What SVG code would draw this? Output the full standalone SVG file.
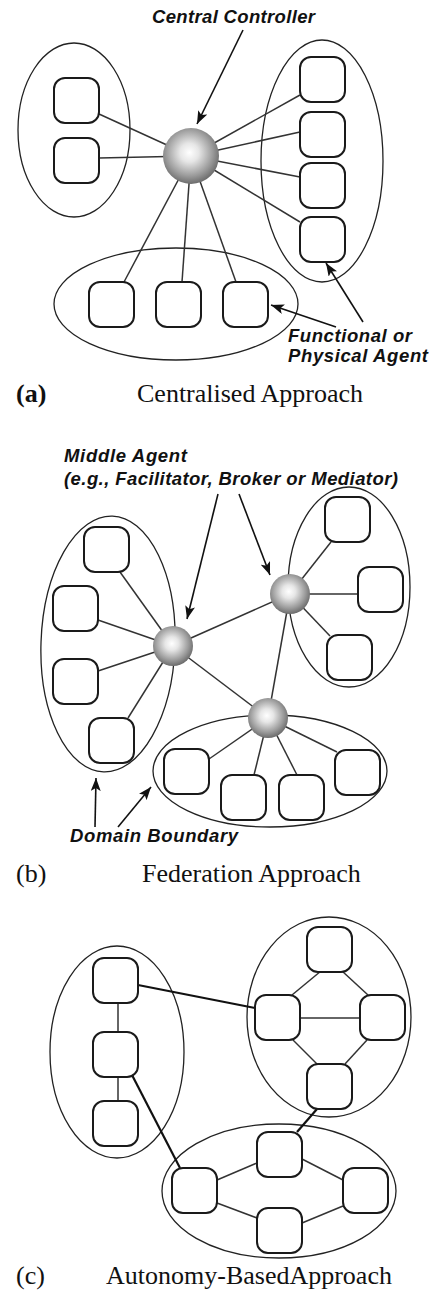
<svg xmlns="http://www.w3.org/2000/svg" width="434" height="1291" viewBox="0 0 434 1291">
<style>
.dom{fill:none;stroke:#222;stroke-width:1.3}
.box{fill:#fff;stroke:#1a1a1a;stroke-width:2}
.ln{stroke:#333;stroke-width:1.5;fill:none}
.lk{stroke:#111;stroke-width:2.2;fill:none}
.ar{stroke:#111;stroke-width:1.6;fill:none;marker-end:url(#ah)}
.sph{fill:url(#sg)}
.lab{font-family:"Liberation Sans",Arial,sans-serif;font-weight:bold;font-style:italic;font-size:18.5px;fill:#111}
.cap{font-family:"Liberation Serif","Times New Roman",serif;font-size:26px;fill:#111}
</style>
<defs>
<radialGradient id="sg" cx="0.47" cy="0.44" r="0.56">
<stop offset="0" stop-color="#ffffff"/>
<stop offset="0.3" stop-color="#e6e6e6"/>
<stop offset="0.75" stop-color="#9a9a9a"/>
<stop offset="1" stop-color="#6c6c6c"/>
</radialGradient>
<marker id="ah" markerUnits="userSpaceOnUse" markerWidth="14" markerHeight="10" refX="13" refY="5" orient="auto">
<path d="M0,0 L13,5 L0,10 L3,5 z" fill="#111"/>
</marker>
<rect id="b" width="45" height="45" rx="11" ry="11" class="box"/>
</defs>

<g id="panel-a">
<g id="a-domain-left"><ellipse class="dom" cx="74" cy="130" rx="56" ry="87"/></g>
<g id="a-domain-right"><ellipse class="dom" cx="322" cy="161" rx="61" ry="121"/></g>
<g id="a-domain-bottom"><ellipse class="dom" cx="176" cy="304" rx="122" ry="56"/></g>
<g id="a-connectors">
<line class="ln" x1="191" y1="156" x2="99" y2="114"/>
<line class="ln" x1="191" y1="156" x2="99" y2="158"/>
<line class="ln" x1="191" y1="156" x2="300" y2="95"/>
<line class="ln" x1="191" y1="156" x2="300" y2="132"/>
<line class="ln" x1="191" y1="156" x2="300" y2="177"/>
<line class="ln" x1="191" y1="156" x2="300" y2="222"/>
<line class="ln" x1="191" y1="156" x2="124" y2="282"/>
<line class="ln" x1="191" y1="156" x2="182" y2="282"/>
<line class="ln" x1="191" y1="156" x2="236" y2="282"/>
<line class="ar" x1="243" y1="30" x2="197" y2="124"/>
<line class="ar" x1="336" y1="327" x2="271" y2="305"/>
<line class="ar" x1="363" y1="322" x2="326" y2="263"/>
</g>
<g id="a-agent-l1"><use href="#b" x="54" y="78"/></g>
<g id="a-agent-l2"><use href="#b" x="54" y="138"/></g>
<g id="a-agent-r1"><use href="#b" x="300" y="57"/></g>
<g id="a-agent-r2"><use href="#b" x="300" y="112"/></g>
<g id="a-agent-r3"><use href="#b" x="300" y="163"/></g>
<g id="a-agent-r4"><use href="#b" x="300" y="217"/></g>
<g id="a-agent-b1"><use href="#b" x="89" y="282"/></g>
<g id="a-agent-b2"><use href="#b" x="156" y="282"/></g>
<g id="a-agent-b3"><use href="#b" x="223" y="282"/></g>
<g id="a-controller"><circle class="sph" cx="191" cy="156" r="28"/></g>
<g id="a-labels">
<text class="lab" x="152" y="23" textLength="163">Central Controller</text>
<text class="lab" x="288" y="342" textLength="124">Functional or</text>
<text class="lab" x="288" y="362" textLength="140">Physical Agent</text>
<text class="cap" x="16" y="402" font-weight="bold">(a)</text>
<text class="cap" x="137" y="402">Centralised Approach</text>
</g>
</g>

<g id="panel-b">
<g id="b-domain-left"><ellipse class="dom" cx="108" cy="644" rx="67" ry="128" transform="rotate(2 108 644)"/></g>
<g id="b-domain-right"><ellipse class="dom" cx="349" cy="587" rx="61" ry="100"/></g>
<g id="b-domain-bottom"><ellipse class="dom" cx="270" cy="771" rx="117" ry="56"/></g>
<g id="b-connectors">
<line class="ln" x1="173" y1="646" x2="120" y2="572"/>
<line class="ln" x1="173" y1="646" x2="98" y2="620"/>
<line class="ln" x1="173" y1="646" x2="98" y2="671"/>
<line class="ln" x1="173" y1="646" x2="128" y2="718"/>
<line class="ln" x1="173" y1="646" x2="290" y2="594"/>
<line class="ln" x1="173" y1="646" x2="268" y2="718"/>
<line class="ln" x1="290" y1="594" x2="268" y2="718"/>
<line class="ln" x1="290" y1="594" x2="331" y2="542"/>
<line class="ln" x1="290" y1="594" x2="358" y2="594"/>
<line class="ln" x1="290" y1="594" x2="330" y2="636"/>
<line class="ln" x1="268" y1="718" x2="209" y2="759"/>
<line class="ln" x1="268" y1="718" x2="254" y2="775"/>
<line class="ln" x1="268" y1="718" x2="297" y2="775"/>
<line class="ln" x1="268" y1="718" x2="337" y2="752"/>
<line class="ar" x1="218" y1="494" x2="187" y2="619"/>
<line class="ar" x1="239" y1="494" x2="270" y2="575"/>
<line class="ar" x1="95" y1="827" x2="96" y2="778"/>
<line class="ar" x1="118" y1="827" x2="151" y2="787"/>
</g>
<g id="b-agent-l1"><use href="#b" x="84" y="527"/></g>
<g id="b-agent-l2"><use href="#b" x="53" y="586"/></g>
<g id="b-agent-l3"><use href="#b" x="53" y="659"/></g>
<g id="b-agent-l4"><use href="#b" x="89" y="718"/></g>
<g id="b-agent-r1"><use href="#b" x="325" y="497"/></g>
<g id="b-agent-r2"><use href="#b" x="358" y="567"/></g>
<g id="b-agent-r3"><use href="#b" x="327" y="635"/></g>
<g id="b-agent-b1"><use href="#b" x="164" y="749"/></g>
<g id="b-agent-b2"><use href="#b" x="221" y="775"/></g>
<g id="b-agent-b3"><use href="#b" x="279" y="775"/></g>
<g id="b-agent-b4"><use href="#b" x="335" y="750"/></g>
<g id="b-middle-1"><circle class="sph" cx="173" cy="646" r="20"/></g>
<g id="b-middle-2"><circle class="sph" cx="290" cy="594" r="20"/></g>
<g id="b-middle-3"><circle class="sph" cx="268" cy="718" r="20"/></g>
<g id="b-labels">
<text class="lab" x="64" y="462" textLength="123">Middle Agent</text>
<text class="lab" x="64" y="485" textLength="334">(e.g., Facilitator, Broker or Mediator)</text>
<text class="lab" x="70" y="842" textLength="168">Domain Boundary</text>
<text class="cap" x="16" y="882">(b)</text>
<text class="cap" x="142" y="882">Federation Approach</text>
</g>
</g>

<g id="panel-c">
<g id="c-domain-left"><ellipse class="dom" cx="117" cy="1052" rx="67" ry="106"/></g>
<g id="c-domain-right"><ellipse class="dom" cx="329" cy="1017" rx="82" ry="100"/></g>
<g id="c-domain-bottom"><ellipse class="dom" cx="279" cy="1191" rx="117" ry="67"/></g>
<g id="c-connectors">
<line class="ln" x1="118" y1="1003" x2="118" y2="1032"/>
<line class="ln" x1="118" y1="1077" x2="118" y2="1101"/>
<line class="lk" x1="138" y1="985" x2="255" y2="1008"/>
<line class="lk" x1="132" y1="1075" x2="180" y2="1168"/>
<line class="ln" x1="321" y1="971" x2="292" y2="995"/>
<line class="ln" x1="342" y1="971" x2="368" y2="995"/>
<line class="ln" x1="300" y1="1018" x2="360" y2="1018"/>
<line class="ln" x1="293" y1="1040" x2="317" y2="1064"/>
<line class="ln" x1="367" y1="1040" x2="345" y2="1064"/>
<line class="lk" x1="317" y1="1109" x2="297" y2="1132"/>
<line class="ln" x1="217" y1="1180" x2="257" y2="1163"/>
<line class="ln" x1="302" y1="1159" x2="343" y2="1180"/>
<line class="ln" x1="217" y1="1203" x2="257" y2="1218"/>
<line class="ln" x1="302" y1="1223" x2="343" y2="1206"/>
</g>
<g id="c-agent-l1"><use href="#b" x="93" y="958"/></g>
<g id="c-agent-l2"><use href="#b" x="93" y="1032"/></g>
<g id="c-agent-l3"><use href="#b" x="93" y="1101"/></g>
<g id="c-agent-r1"><use href="#b" x="307" y="927"/></g>
<g id="c-agent-r2"><use href="#b" x="255" y="995"/></g>
<g id="c-agent-r3"><use href="#b" x="360" y="995"/></g>
<g id="c-agent-r4"><use href="#b" x="307" y="1064"/></g>
<g id="c-agent-b1"><use href="#b" x="257" y="1132"/></g>
<g id="c-agent-b2"><use href="#b" x="172" y="1168"/></g>
<g id="c-agent-b3"><use href="#b" x="343" y="1168"/></g>
<g id="c-agent-b4"><use href="#b" x="257" y="1208"/></g>
<g id="c-labels">
<text class="cap" x="16" y="1284">(c)</text>
<text class="cap" x="106" y="1284">Autonomy-BasedApproach</text>
</g>
</g>
</svg>
